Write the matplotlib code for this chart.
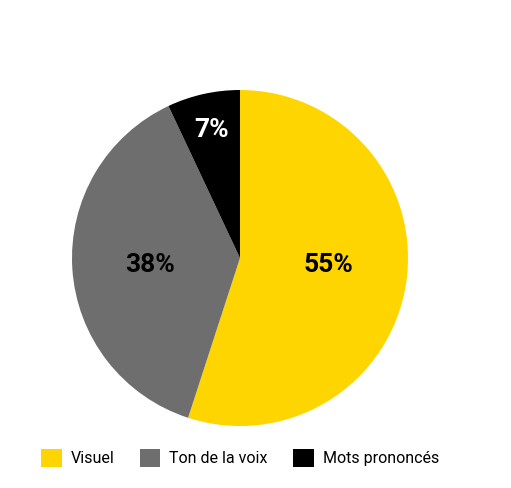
import numpy as np
import matplotlib.pyplot as plt
from matplotlib.patches import Patch

plt.rcParams['font.family'] = ['Roboto', 'DejaVu Sans']

labels = ['Visuel', 'Ton de la voix', 'Mots prononcés']
values = [55, 38, 7]
colors = ['#FFD500', '#6E6E6E', '#000000']
text_colors = ['black', 'black', 'white']

fig = plt.figure(figsize=(5.11, 4.88), dpi=100)
# pie centre at about (240, 258) px, radius 168 px
ax = fig.add_axes([(240 - 168) / 511, (488 - 258 - 168) / 488, 336 / 511, 336 / 488])

wedges, texts, autotexts = ax.pie(values, colors=colors, startangle=90, counterclock=False,
                                  autopct='%d%%', pctdistance=0.52,
                                  textprops={'fontsize': 19, 'fontweight': 'bold'})
for t, c in zip(autotexts, text_colors):
    t.set_color(c)

# the small slice label sits further out
w = wedges[2]
mid = np.deg2rad((w.theta1 + w.theta2) / 2)
autotexts[2].set_position((0.78 * np.cos(mid), 0.78 * np.sin(mid)))
# the two big labels sit a little off their mid-angle, at the same height
for t in autotexts[:2]:
    x, y = t.get_position()
    t.set_position((x * 1.03, -0.04))

ax.set_xlim(-1, 1)
ax.set_ylim(-1, 1)
ax.set_aspect('equal')

handles = [Patch(facecolor=c, label=l) for c, l in zip(colors, labels)]
fig.legend(handles=handles, loc='center', bbox_to_anchor=(240 / 511, 30 / 488), ncol=3,
           frameon=False, fontsize=11.5, handlelength=1.3, handleheight=1.3,
           handletextpad=0.55, columnspacing=1.6)

fig.savefig('out.png', dpi=100)
